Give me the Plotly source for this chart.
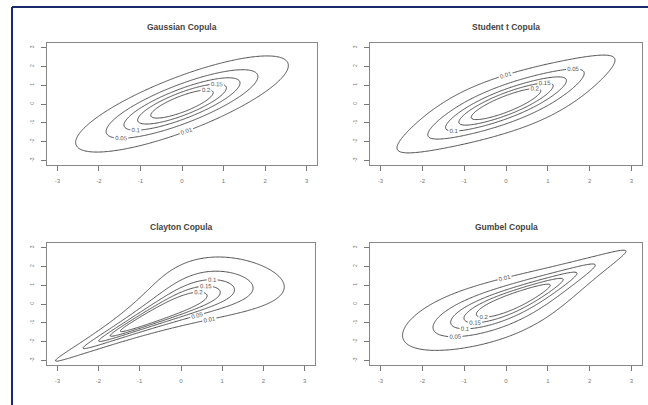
import math
import numpy as np
import plotly.graph_objects as go

# ---- chart content -------------------------------------------------------
titles = ["Gaussian Copula", "Student t Copula", "Clayton Copula", "Gumbel Copula"]
copula_kinds = ["gauss", "t", "clayton", "gumbel"]
copula_params = [0.8, 0.8, 2.9, 2.4]     # rho / rho / theta / theta
t_df = 8
contour_levels = [0.01, 0.05, 0.1, 0.15, 0.2]
tick_values = [-3, -2, -1, 0, 1, 2, 3]
tick_labels = ["-3", "-2", "-1", "0", "1", "2", "3"]
axis_range = [-3.25, 3.25]

# ---- densities (normal margins) --------------------------------------------
g = np.linspace(-3.3, 3.3, 221)
X, Y = np.meshgrid(g, g)
erf = np.vectorize(math.erf)
def Phi(z):
    return 0.5 * (1 + erf(z / math.sqrt(2)))
def phi(z):
    return np.exp(-z * z / 2) / math.sqrt(2 * math.pi)
U, V = Phi(X), Phi(Y)
marg = phi(X) * phi(Y)

def dens(kind, p):
    if kind == "gauss":
        r = p
        q = (X**2 - 2 * r * X * Y + Y**2) / (1 - r * r)
        return np.exp(-q / 2) / (2 * math.pi * math.sqrt(1 - r * r))
    if kind == "t":
        r, nu = p, t_df
        tg = np.linspace(-80, 80, 200001)
        c1 = math.gamma((nu + 1) / 2) / (math.sqrt(nu * math.pi) * math.gamma(nu / 2))
        pdf = c1 * (1 + tg**2 / nu) ** (-(nu + 1) / 2)
        cdf = np.concatenate([[0], np.cumsum((pdf[1:] + pdf[:-1]) / 2 * np.diff(tg))])
        cdf = cdf + (1 - cdf[-1]) / 2
        A = np.interp(U, cdf, tg)
        B = np.interp(V, cdf, tg)
        t1a = c1 * (1 + A**2 / nu) ** (-(nu + 1) / 2)
        t1b = c1 * (1 + B**2 / nu) ** (-(nu + 1) / 2)
        q = (A**2 - 2 * r * A * B + B**2) / (1 - r * r)
        t2 = (1 + q / nu) ** (-(nu + 2) / 2) / (2 * math.pi * math.sqrt(1 - r * r))
        return t2 / (t1a * t1b) * marg
    if kind == "clayton":
        th = p
        c = (1 + th) * (U * V) ** (-th - 1) * (U**-th + V**-th - 1) ** (-2 - 1 / th)
        return c * marg
    if kind == "gumbel":
        th = p
        xu, yv = -np.log(U), -np.log(V)
        A = xu**th + yv**th
        C = np.exp(-A ** (1 / th))
        c = C / (U * V) * (xu * yv) ** (th - 1) * A ** (2 / th - 2) * (1 + (th - 1) * A ** (-1 / th))
        return c * marg

# ---- figure ----------------------------------------------------------------
W, H = 648, 405
boxes = [(47, 317, 43, 165), (370, 642, 43, 165), (47, 315, 243, 365), (370, 642, 243, 365)]

fig = go.Figure()
layout = dict(width=W, height=H, margin=dict(l=0, r=0, t=0, b=0),
              paper_bgcolor="white", plot_bgcolor="white", showlegend=False)
annotations, shapes = [], []
for i, (kind, p) in enumerate(zip(copula_kinds, copula_params)):
    Z = dens(kind, p)
    xa = "x" if i == 0 else f"x{i+1}"
    ya = "y" if i == 0 else f"y{i+1}"
    for lv in contour_levels:
        fig.add_trace(go.Contour(
            x=g, y=g, z=Z, xaxis=xa, yaxis=ya,
            autocontour=False,
            contours=dict(start=lv, end=lv, size=1, coloring="lines", showlabels=True,
                          labelfont=dict(size=6, color="#555", family="Liberation Sans")),
            colorscale=[[0, "#3a3a3a"], [1, "#3a3a3a"]], showscale=False,
            line=dict(width=0.9), hoverinfo="skip"))
    x0, x1, y0, y1 = boxes[i]
    ax = dict(domain=[x0 / W, x1 / W], range=axis_range, tickvals=tick_values, ticktext=tick_labels,
              ticks="outside", ticklen=5, tickcolor="#777", showgrid=False, zeroline=False,
              showline=True, mirror=True, linecolor="#888", linewidth=1, ticklabelstandoff=5,
              tickfont=dict(size=6, color="#777", family="Liberation Sans"),
              anchor=ya, fixedrange=True)
    ay = dict(domain=[1 - y1 / H, 1 - y0 / H], range=axis_range, tickvals=tick_values, ticktext=tick_labels,
              ticks="outside", ticklen=5, tickcolor="#777", showgrid=False, zeroline=False,
              showline=True, mirror=True, linecolor="#888", linewidth=1, tickangle=-90,
              ticklabelstandoff=5,
              tickfont=dict(size=5, color="#777", family="Liberation Sans"),
              anchor=xa, fixedrange=True)
    layout["xaxis" if i == 0 else f"xaxis{i+1}"] = ax
    layout["yaxis" if i == 0 else f"yaxis{i+1}"] = ay
    annotations.append(dict(text="<b>" + titles[i] + "</b>", x=(x0 + x1) / 2 / W, y=1 - (y0 - 16) / H,
                            xref="paper", yref="paper", showarrow=False, xanchor="center", yanchor="middle",
                            font=dict(size=8.5, color="#444", family="Liberation Sans")))

# outer frame (top and left edges)
shapes.append(dict(type="line", xref="paper", yref="paper", x0=12 / W, x1=1, y0=1 - 7 / H, y1=1 - 7 / H,
                   line=dict(color="#1b2a6b", width=2)))
shapes.append(dict(type="line", xref="paper", yref="paper", x0=12 / W, x1=12 / W, y0=0, y1=1 - 7 / H,
                   line=dict(color="#1b2a6b", width=2)))
layout["annotations"] = annotations
layout["shapes"] = shapes
fig.update_layout(**layout)
fig.write_html("out.html", config={"displayModeBar": False},
               post_script="document.body.style.margin='0';")
